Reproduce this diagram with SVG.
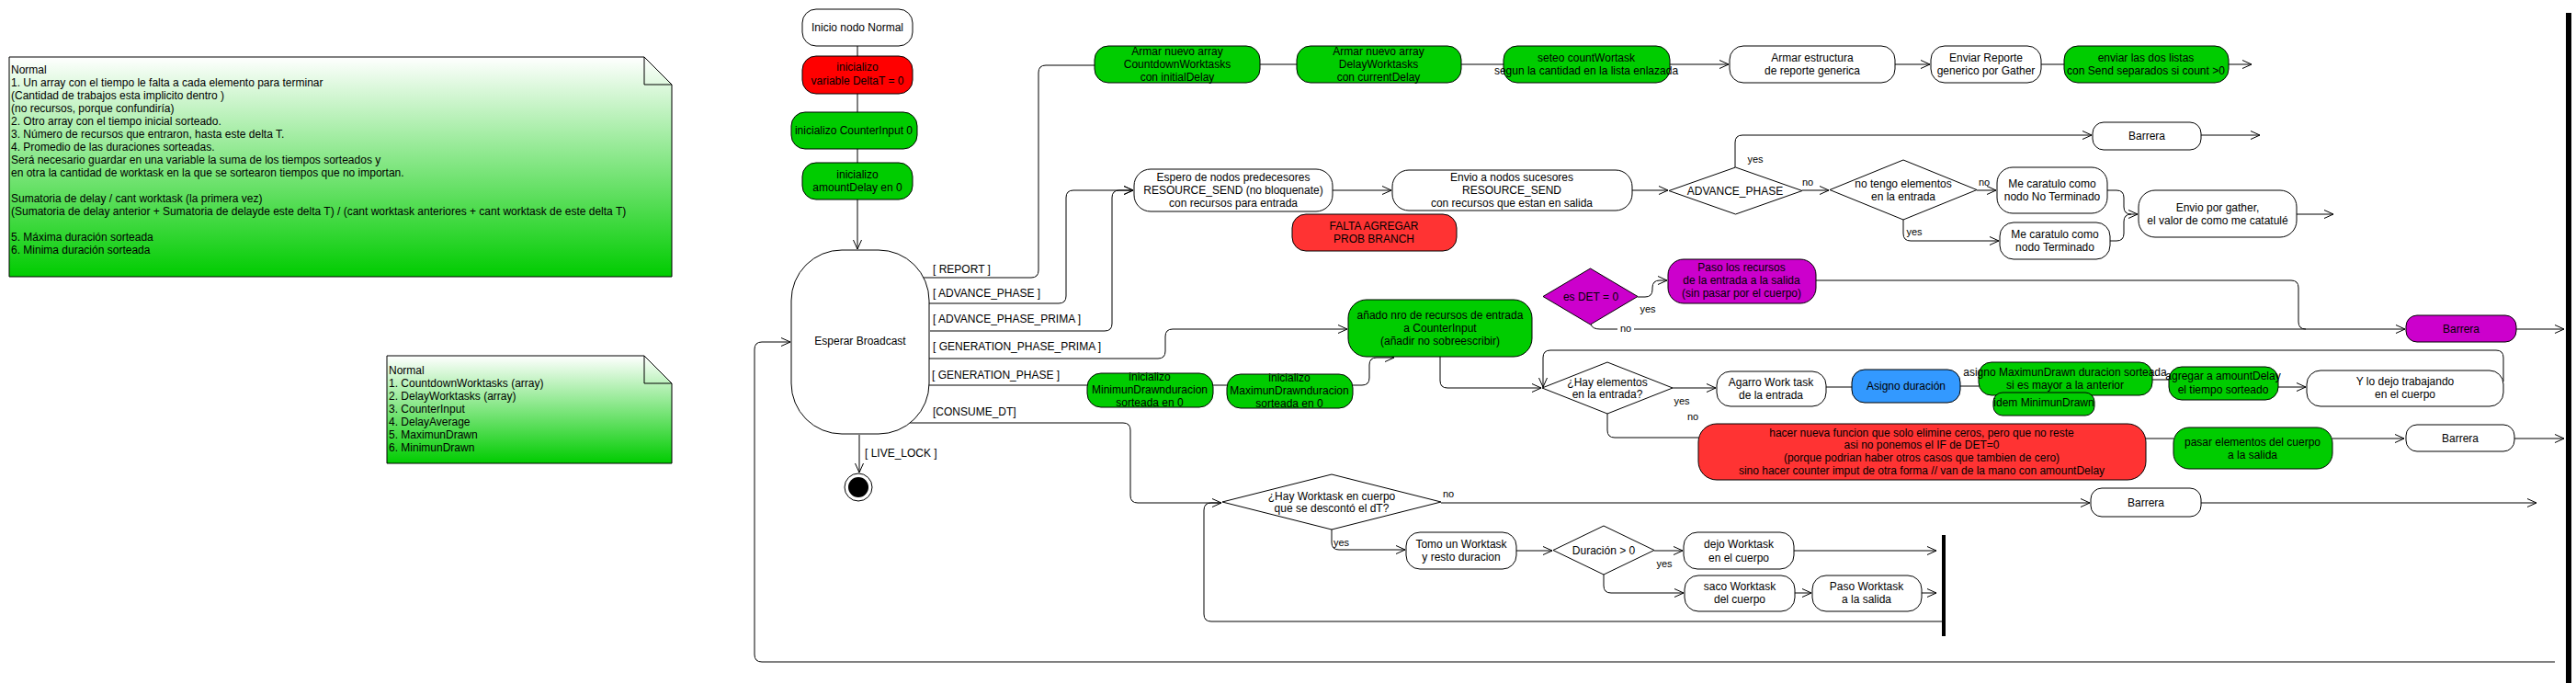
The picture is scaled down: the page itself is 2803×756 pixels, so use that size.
<svg xmlns="http://www.w3.org/2000/svg" width="2803" height="756" viewBox="0 0 2803 756">
<defs>
<linearGradient id="ng" x1="0" y1="0" x2="0" y2="1"><stop offset="0" stop-color="#ffffff"/><stop offset="1" stop-color="#00cc00"/></linearGradient>
<marker id="a" viewBox="0 0 10 10" refX="10" refY="5" markerWidth="10" markerHeight="10" markerUnits="userSpaceOnUse" orient="auto"><path d="M0,0.5 L10,5 L0,9.5" fill="none" stroke="#000" stroke-width="1"/></marker>
</defs>
<style>
.n{stroke:#000;stroke-width:1}
.w{fill:#fff}.g{fill:#00cc00}.r{fill:#ff0000}.r2{fill:#ff3333}.m{fill:#cc00cc}.b{fill:#3399ff}
text{font-family:"Liberation Sans",Arial,Helvetica,sans-serif;font-size:12px;fill:#000}
.c{text-anchor:middle}
.l{font-size:11px}
.e path{fill:none;stroke:#000;stroke-width:1}
.e .ar{marker-end:url(#a)}
</style>
<rect width="2803" height="756" fill="#fff"/>

<g id="note1">
<path class="n" d="M10,62 H701 L731,92 V301 H10 Z" fill="url(#ng)"/>
<path class="n" d="M701,62 V92 H731" fill="none"/>
<text x="12" y="80">Normal</text>
<text x="12" y="94">1. Un array con el tiempo le falta a cada elemento para terminar</text>
<text x="12" y="108">(Cantidad de trabajos esta implicito dentro )</text>
<text x="12" y="122">(no recursos, porque confundiría)</text>
<text x="12" y="136">2. Otro array con el tiempo inicial sorteado.</text>
<text x="12" y="150">3. Número de recursos que entraron, hasta este delta T.</text>
<text x="12" y="164">4. Promedio de las duraciones sorteadas.</text>
<text x="12" y="178">Será necesario guardar en una variable la suma de los tiempos sorteados y</text>
<text x="12" y="192">en otra la cantidad de worktask en la que se sortearon tiempos que no importan.</text>
<text x="12" y="220">Sumatoria de delay / cant worktask (la primera vez)</text>
<text x="12" y="234">(Sumatoria de delay anterior + Sumatoria de delayde este delta T) / (cant worktask anteriores + cant worktask de este delta T)</text>
<text x="12" y="262">5. Máxima duración sorteada</text>
<text x="12" y="276">6. Minima duración sorteada</text>
</g>

<g id="note2">
<path class="n" d="M421,387 H701 L731,417 V504 H421 Z" fill="url(#ng)"/>
<path class="n" d="M701,387 V417 H731" fill="none"/>
<text x="423" y="407">Normal</text>
<text x="423" y="421">1. CountdownWorktasks (array)</text>
<text x="423" y="435">2. DelayWorktasks (array)</text>
<text x="423" y="449">3. CounterInput</text>
<text x="423" y="463">4. DelayAverage</text>
<text x="423" y="477">5. MaximunDrawn</text>
<text x="423" y="491">6. MinimunDrawn</text>
</g>

<g class="e" id="connectors">
<path d="M933,50 V61"/>
<path d="M933,102 V122"/>
<path d="M933,162 V177"/>
<path class="ar" d="M933,217 V271"/>
<path d="M1003,302 H1122 Q1130,302 1130,294 V79 Q1130,71 1138,71 H1191"/>
<path class="ar" d="M1011,330 H1152 Q1160,330 1160,322 V215 Q1160,207 1168,207 H1233"/>
<path class="ar" d="M1012,360 H1202 Q1210,360 1210,352 V215 Q1210,207 1218,207 H1233"/>
<path class="ar" d="M1011,390 H1260 Q1268,390 1268,382 V366 Q1268,358 1276,358 H1466"/>
<path d="M997,419 H1183"/>
<path class="ar" d="M984,460 H1222 Q1230,460 1230,468 V539 Q1230,547 1238,547 H1329"/>
<path class="ar" d="M935,473 V514"/>
<path class="ar" d="M2780,720 H829 Q821,720 821,712 V380 Q821,372 829,372 H860"/>

<path d="M1371,70 H1411"/>
<path d="M1590,70 H1636"/>
<path class="ar" d="M1817,70 H1881"/>
<path class="ar" d="M2062,70 H2100"/>
<path d="M2221,70 H2246"/>
<path class="ar" d="M2425,70 H2450"/>

<path class="ar" d="M1450,207 H1514"/>
<path class="ar" d="M1776,207 H1815"/>
<path class="ar" d="M1888,182 V155 Q1888,147 1896,147 H2276"/>
<path class="ar" d="M1961,207 H1990"/>
<path class="ar" d="M2151,207 H2172"/>
<path class="ar" d="M2071,239 V254 Q2071,262 2079,262 H2175"/>
<path class="ar" d="M2293,207 H2303 Q2311,207 2311,215 V225 Q2311,233 2319,233 H2326"/>
<path d="M2296,262 H2303 Q2311,262 2311,254 V241 Q2311,233 2319,233"/>
<path class="ar" d="M2395,147 H2459"/>
<path class="ar" d="M2499,233 H2539"/>

<path class="ar" d="M1782,323 H1790 Q1798,323 1798,315 V313 Q1798,305 1806,305 H1814"/>
<path class="ar" d="M1731,353 Q1733,358 1741,358 H2617"/>
<path d="M1976,305 H2493 Q2501,305 2501,313 V350 Q2501,358 2509,358"/>
<path class="ar" d="M2738,358 H2790"/>

<path d="M1320,419 H1335"/>
<path class="ar" d="M1472,419 H1482 Q1490,419 1490,411 V397 Q1490,389 1498,389 H1517"/>
<path class="ar" d="M1567,388 V414 Q1567,422 1575,422 H1677"/>
<path class="ar" d="M2724,415 V389 Q2724,381 2716,381 H1687 Q1679,381 1679,389 V421"/>
<path class="ar" d="M1820,422 H1867"/>
<path d="M1987,421 H2015"/>
<path d="M2133,420 H2153"/>
<path d="M2342,413 H2360"/>
<path class="ar" d="M2479,421 H2509"/>
<path d="M1749,450 V468 Q1749,476 1757,476 H1848"/>
<path d="M2335,477 H2365"/>
<path class="ar" d="M2538,477 H2616"/>
<path class="ar" d="M2736,477 H2790"/>

<path class="ar" d="M1568,547 H2274"/>
<path class="ar" d="M2395,547 H2760"/>
<path class="ar" d="M1449,576 V590 Q1449,598 1457,598 H1529"/>
<path class="ar" d="M1650,599 H1689"/>
<path class="ar" d="M1800,599 H1831"/>
<path class="ar" d="M1952,599 H2107"/>
<path class="ar" d="M1745,625 V637 Q1745,645 1753,645 H1832"/>
<path class="ar" d="M1953,645 H1971"/>
<path class="ar" d="M2091,645 H2107"/>
<path d="M2113,676 H1318 Q1310,676 1310,668 V555 Q1310,547 1318,547 H1329"/>
</g>

<g id="labels">
<text x="1015" y="297">[ REPORT ]</text>
<text x="1015" y="323">[ ADVANCE_PHASE ]</text>
<text x="1015" y="351">[ ADVANCE_PHASE_PRIMA ]</text>
<text x="1015" y="381">[ GENERATION_PHASE_PRIMA ]</text>
<text x="1014" y="412">[ GENERATION_PHASE ]</text>
<text x="1015" y="452">[CONSUME_DT]</text>
<text x="941" y="497">[ LIVE_LOCK ]</text>
<text class="c l" x="1910" y="177">yes</text>
<text class="c l" x="1967" y="202">no</text>
<text class="c l" x="2159" y="202">no</text>
<text class="c l" x="2083" y="256">yes</text>
<text class="c l" x="1793" y="340">yes</text>
<rect x="1760" y="352" width="18" height="12" fill="#fff"/>
<text class="c l" x="1769" y="361">no</text>
<text class="c l" x="1830" y="440">yes</text>
<text class="c l" x="1842" y="457">no</text>
<text class="c l" x="1576" y="541">no</text>
<text class="l" x="1451" y="594">yes</text>
<text class="c l" x="1811" y="617">yes</text>
<text class="c l" x="1752" y="620">no</text>
</g>

<g id="inicio"><rect class="n w" x="873" y="10" width="120" height="40" rx="15"/><text class="c" x="933" y="34">Inicio nodo Normal</text></g>
<g id="deltaT"><rect class="n r" x="873" y="61" width="120" height="41" rx="15"/><text class="c" x="933" y="77">inicializo</text><text class="c" x="933" y="92">variable DeltaT = 0</text></g>
<g id="counterInput"><rect class="n g" x="861" y="122" width="137" height="40" rx="15"/><text class="c" x="929" y="146">inicializo CounterInput 0</text></g>
<g id="amountDelay"><rect class="n g" x="873" y="177" width="120" height="40" rx="15"/><text class="c" x="933" y="194">inicializo</text><text class="c" x="933" y="208">amountDelay en 0</text></g>
<g id="esperar"><rect class="n w" x="861" y="272" width="150" height="200" rx="55"/><text class="c" x="936" y="375">Esperar Broadcast</text></g>
<g id="final"><circle class="n w" cx="934" cy="530" r="15"/><circle cx="934" cy="530" r="11" fill="#000"/></g>

<g id="countdown"><rect class="n g" x="1191" y="50" width="180" height="40" rx="15"/><text class="c" x="1281" y="60">Armar nuevo array</text><text class="c" x="1281" y="74">CountdownWorktasks</text><text class="c" x="1281" y="88">con initialDelay</text></g>
<g id="delayArr"><rect class="n g" x="1411" y="50" width="179" height="40" rx="15"/><text class="c" x="1500" y="60">Armar nuevo array</text><text class="c" x="1500" y="74">DelayWorktasks</text><text class="c" x="1500" y="88">con currentDelay</text></g>
<g id="seteo"><rect class="n g" x="1636" y="50" width="181" height="40" rx="15"/><text class="c" x="1726" y="67">seteo countWortask</text><text class="c" x="1726" y="81">segun la cantidad en la lista enlazada</text></g>
<g id="armarEstructura"><rect class="n w" x="1882" y="50" width="180" height="40" rx="15"/><text class="c" x="1972" y="67">Armar estructura</text><text class="c" x="1972" y="81">de reporte generica</text></g>
<g id="enviarReporte"><rect class="n w" x="2101" y="50" width="120" height="40" rx="15"/><text class="c" x="2161" y="67">Enviar Reporte</text><text class="c" x="2161" y="81">generico por Gather</text></g>
<g id="enviarListas"><rect class="n g" x="2246" y="50" width="179" height="40" rx="15"/><text class="c" x="2335" y="67">enviar las dos listas</text><text class="c" x="2335" y="81">con Send separados si count &gt;0</text></g>

<g id="espero"><rect class="n w" x="1234" y="184" width="216" height="46" rx="18"/><text class="c" x="1342" y="197">Espero de nodos predecesores</text><text class="c" x="1342" y="211">RESOURCE_SEND (no bloquenate)</text><text class="c" x="1342" y="225">con recursos para entrada</text></g>
<g id="envioSucesores"><rect class="n w" x="1515" y="185" width="261" height="44" rx="18"/><text class="c" x="1645" y="197">Envio a nodos sucesores</text><text class="c" x="1645" y="211">RESOURCE_SEND</text><text class="c" x="1645" y="225">con recursos que estan en salida</text></g>
<g id="falta"><rect class="n r2" x="1406" y="233" width="179" height="40" rx="15"/><text class="c" x="1495" y="250">FALTA AGREGAR</text><text class="c" x="1495" y="264">PROB BRANCH</text></g>
<g id="advancePhase"><polygon class="n w" points="1816,207.5 1888.5,182 1961,207.5 1888.5,233"/><text class="c" x="1888" y="212">ADVANCE_PHASE</text></g>
<g id="noTengo"><polygon class="n w" points="1991,206.5 2071,174 2151,206.5 2071,239"/><text class="c" x="2071" y="204">no tengo elementos</text><text class="c" x="2071" y="218">en la entrada</text></g>
<g id="barrera1"><rect class="n w" x="2277" y="133" width="118" height="30" rx="12"/><text class="c" x="2336" y="152">Barrera</text></g>
<g id="noTerminado"><rect class="n w" x="2173" y="182" width="120" height="50" rx="17"/><text class="c" x="2233" y="204">Me caratulo como</text><text class="c" x="2233" y="218">nodo No Terminado</text></g>
<g id="terminado"><rect class="n w" x="2176" y="242" width="120" height="40" rx="15"/><text class="c" x="2236" y="259">Me caratulo como</text><text class="c" x="2236" y="273">nodo Terminado</text></g>
<g id="envioGather"><rect class="n w" x="2327" y="207" width="172" height="51" rx="18"/><text class="c" x="2413" y="230">Envio por gather,</text><text class="c" x="2413" y="244">el valor de como me catatulé</text></g>

<g id="det"><polygon class="n m" points="1679,322.5 1730.5,292 1782,322.5 1730.5,353"/><text class="c" x="1731" y="327">es DET = 0</text></g>
<g id="pasoRecursos"><rect class="n m" x="1815" y="282" width="161" height="48" rx="17"/><text class="c" x="1895" y="295">Paso los recursos</text><text class="c" x="1895" y="309">de la entrada a la salida</text><text class="c" x="1895" y="323">(sin pasar por el cuerpo)</text></g>
<g id="barreraM"><rect class="n m" x="2618" y="343" width="120" height="29" rx="12"/><text class="c" x="2678" y="362">Barrera</text></g>

<g id="minDrawn"><rect class="n g" x="1183" y="406" width="137" height="37" rx="15"/><text class="c" x="1251" y="414">inicializo</text><text class="c" x="1251" y="428">MinimunDrawnduracion</text><text class="c" x="1251" y="442">sorteada en 0</text></g>
<g id="maxDrawn"><rect class="n g" x="1335" y="407" width="137" height="37" rx="15"/><text class="c" x="1403" y="415">inicializo</text><text class="c" x="1403" y="429">MaximunDrawnduracion</text><text class="c" x="1403" y="443">sorteada en 0</text></g>
<g id="anado"><rect class="n g" x="1467" y="326" width="200" height="62" rx="20"/><text class="c" x="1567" y="347">añado nro de recursos de entrada</text><text class="c" x="1567" y="361">a CounterInput</text><text class="c" x="1567" y="375">(añadir no sobreescribir)</text></g>

<g id="hayElementos"><polygon class="n w" points="1678,422 1749,394 1820,422 1749,450"/><text class="c" x="1749" y="420">¿Hay elementos</text><text class="c" x="1749" y="433">en la entrada?</text></g>
<g id="agarro"><rect class="n w" x="1868" y="404" width="119" height="38" rx="15"/><text class="c" x="1927" y="420">Agarro Work task</text><text class="c" x="1927" y="434">de la entrada</text></g>
<g id="asignoDur"><rect class="n b" x="2015" y="402" width="118" height="36" rx="14"/><text class="c" x="2074" y="424">Asigno duración</text></g>
<g id="asignoMax"><rect class="n g" x="2153" y="394" width="189" height="36" rx="14"/><text class="c" x="2247" y="409">asigno MaximunDrawn duracion sorteada</text><text class="c" x="2247" y="423">si es mayor a la anterior</text></g>
<g id="idemMin"><rect class="n g" x="2169" y="427" width="110" height="25" rx="10"/><text class="c" x="2224" y="442">idem MinimunDrawn</text></g>
<g id="agregar"><rect class="n g" x="2360" y="399" width="119" height="36" rx="14"/><text class="c" x="2419" y="413">agregar a amountDelay</text><text class="c" x="2419" y="428">el tiempo sorteado</text></g>
<g id="yLoDejo"><rect class="n w" x="2510" y="403" width="214" height="39" rx="15"/><text class="c" x="2617" y="419">Y lo dejo trabajando</text><text class="c" x="2617" y="433">en el cuerpo</text></g>
<g id="hacerFuncion"><rect class="n r2" x="1848" y="461" width="487" height="61" rx="20"/><text class="c" x="2091" y="475">hacer nueva funcion que solo elimine ceros, pero que no reste</text><text class="c" x="2091" y="488">asi no ponemos el IF de DET=0</text><text class="c" x="2091" y="502">(porque podrian haber otros casos que tambien de cero)</text><text class="c" x="2091" y="516">sino hacer counter imput de otra forma // van de la mano con amountDelay</text></g>
<g id="pasarElementos"><rect class="n g" x="2365" y="465" width="173" height="45" rx="17"/><text class="c" x="2451" y="485">pasar elementos del cuerpo</text><text class="c" x="2451" y="499">a la salida</text></g>
<g id="barrera2"><rect class="n w" x="2618" y="462" width="118" height="29" rx="12"/><text class="c" x="2677" y="481">Barrera</text></g>

<g id="hayWorktask"><polygon class="n w" points="1330,546 1449,516 1568,546 1449,576"/><text class="c" x="1449" y="544">¿Hay Worktask en cuerpo</text><text class="c" x="1449" y="557">que se descontó el dT?</text></g>
<g id="barrera3"><rect class="n w" x="2275" y="531" width="120" height="31" rx="12"/><text class="c" x="2335" y="551">Barrera</text></g>
<g id="tomo"><rect class="n w" x="1530" y="579" width="120" height="40" rx="15"/><text class="c" x="1590" y="596">Tomo un Worktask</text><text class="c" x="1590" y="610">y resto duracion</text></g>
<g id="duracion"><polygon class="n w" points="1690,598.5 1745,572 1800,598.5 1745,625"/><text class="c" x="1745" y="603">Duración &gt; 0</text></g>
<g id="dejo"><rect class="n w" x="1832" y="579" width="120" height="40" rx="15"/><text class="c" x="1892" y="596">dejo Worktask</text><text class="c" x="1892" y="611">en el cuerpo</text></g>
<g id="saco"><rect class="n w" x="1833" y="626" width="120" height="39" rx="15"/><text class="c" x="1893" y="642">saco Worktask</text><text class="c" x="1893" y="656">del cuerpo</text></g>
<g id="pasoWorktask"><rect class="n w" x="1972" y="626" width="119" height="39" rx="15"/><text class="c" x="2031" y="642">Paso Worktask</text><text class="c" x="2031" y="656">a la salida</text></g>
<g id="joinInner"><rect x="2113" y="582" width="4" height="110" fill="#000"/></g>
<g id="joinMain"><rect x="2792" y="14" width="6" height="729" fill="#000"/></g>
</svg>
